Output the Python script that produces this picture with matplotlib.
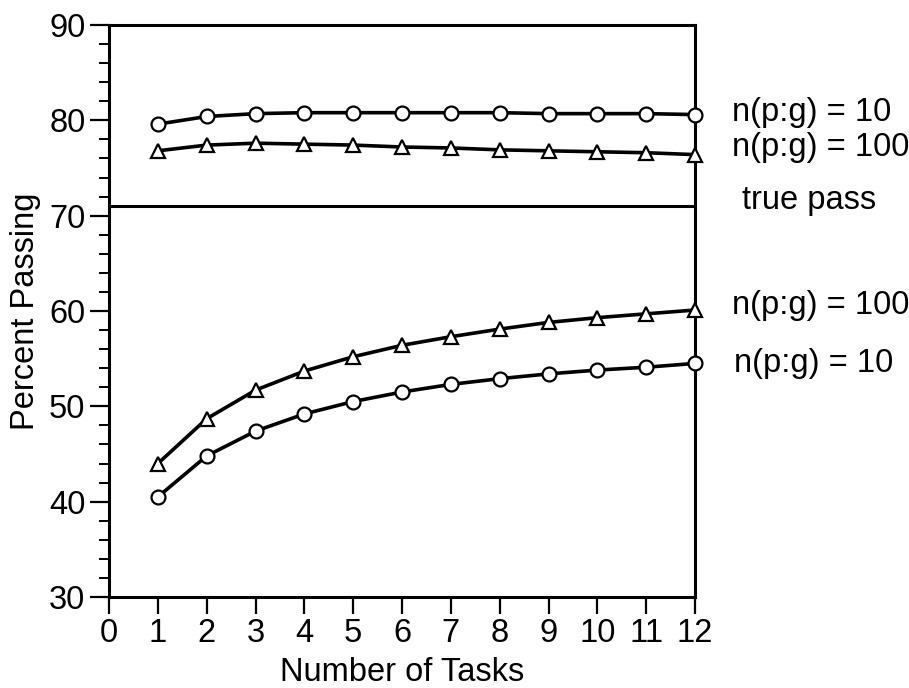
import matplotlib
matplotlib.use("Agg")
import matplotlib.pyplot as plt
import numpy as np

plt.rcParams['font.family'] = ['Liberation Sans', 'DejaVu Sans']

tasks = [1, 2, 3, 4, 5, 6, 7, 8, 9, 10, 11, 12]
# upper pair (false pass side)
up_n10 = [79.6, 80.4, 80.7, 80.8, 80.8, 80.8, 80.8, 80.8, 80.7, 80.7, 80.7, 80.6]
up_n100 = [76.8, 77.4, 77.6, 77.5, 77.4, 77.2, 77.1, 76.9, 76.8, 76.7, 76.6, 76.4]
# lower pair
lo_n100 = [44.0, 48.7, 51.7, 53.7, 55.2, 56.4, 57.3, 58.1, 58.8, 59.3, 59.7, 60.1]
lo_n10 = [40.5, 44.8, 47.4, 49.2, 50.5, 51.5, 52.3, 52.9, 53.4, 53.8, 54.1, 54.5]
true_pass = 71

right_labels = ["n(p:g) = 10", "n(p:g) = 100", "true pass", "n(p:g) = 100", "n(p:g) = 10"]
label_y = [80.8, 77.2, 71.6, 60.6, 54.5]
label_x = [12.76, 12.76, 12.96, 12.76, 12.8]

fs = 23.5

fig = plt.figure(figsize=(9.09, 6.88), dpi=100)
ax = fig.add_axes([0.12, 0.1323, 0.6446, 0.8314])

mk = dict(color='black', lw=2.6, markersize=10, markerfacecolor='white',
          markeredgecolor='black', markeredgewidth=1.6, clip_on=False, zorder=3)
ax.plot(tasks, up_n10, marker='o', **mk)
ax.plot(tasks, up_n100, marker='^', **mk)
ax.plot(tasks, lo_n100, marker='^', **mk)
ax.plot(tasks, lo_n10, marker='o', **mk)
ax.axhline(true_pass, color='black', lw=2.2, zorder=2)

for t, x, y in zip(right_labels, label_x, label_y):
    ax.text(x, y, t, fontsize=fs, va='center', ha='left', clip_on=False)

ax.set_xlim(0, 12)
ax.set_ylim(30, 90)
ax.set_xticks(range(0, 13))
ax.set_yticks(range(30, 91, 10))
ax.set_yticks(np.arange(30, 91, 2), minor=True)
ax.tick_params(axis='both', direction='out', labelsize=fs, width=1.6, color='black')
ax.tick_params(axis='y', which='major', length=14, pad=3)
ax.tick_params(axis='y', which='minor', length=7, width=1.4)
ax.tick_params(axis='x', which='major', length=12, pad=3)
for s in ax.spines.values():
    s.set_linewidth(2.2)

ax.set_xlabel("Number of Tasks", fontsize=fs, labelpad=6)
ax.set_ylabel("Percent Passing", fontsize=fs, labelpad=6)

fig.savefig("out.png", dpi=100)
